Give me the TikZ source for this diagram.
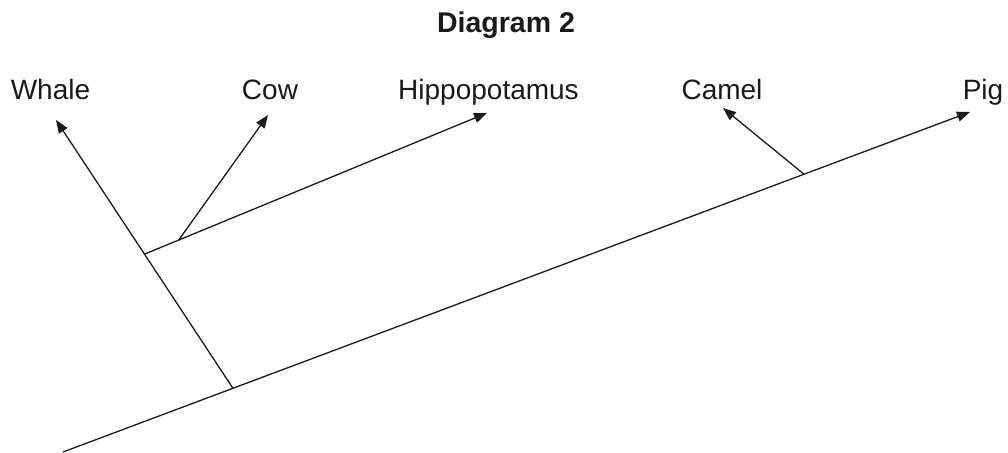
\documentclass[tikz,border=0pt]{standalone}
\usepackage{fontspec}
\setmainfont{Liberation Sans}
\usetikzlibrary{arrows.meta,calc}
\begin{document}
\begin{tikzpicture}[x=1pt,y=-1pt,
  branch/.style={line width=1.3pt, draw=black!90},
  arrowbranch/.style={branch, -{Triangle[length=13pt,width=10pt]}},
  lbl/.style={anchor=base, inner sep=0pt, font=\fontsize{28}{32}\selectfont, text=black!90},
  ttl/.style={anchor=base, inner sep=0pt, font=\fontsize{28.5}{32}\selectfont\bfseries, text=black!90}]
\useasboundingbox (0,0) rectangle (1008,452);
\node[ttl] (title) at (506,33) {Diagram 2};
\node[lbl] (whale) at (50.5,99) {Whale};
\node[lbl] (cow) at (270,99) {Cow};
\node[lbl] (hippo) at (488.5,99) {Hippopotamus};
\node[lbl] (camel) at (722,99) {Camel};
\node[lbl] (pig) at (983,99) {Pig};
\coordinate (root) at (63,452);
\coordinate (pigtip) at (970,112);
\coordinate (whaletip) at (56,120);
\coordinate (hippotip) at (487,113);
\coordinate (cowtip) at (268,115);
\coordinate (cameltip) at (723,108);
\coordinate (jW) at ($(root)!0.1874!(pigtip)$);
\coordinate (jCa) at ($(root)!0.817!(pigtip)$);
\coordinate (jH) at ($(jW)!0.5!(whaletip)$);
\coordinate (jC) at ($(jH)!0.1!(hippotip)$);
\draw[arrowbranch] (root) -- (pigtip);
\draw[arrowbranch] (jW) -- (whaletip);
\draw[arrowbranch] (jH) -- (hippotip);
\draw[arrowbranch] (jC) -- (cowtip);
\draw[arrowbranch] (jCa) -- (cameltip);
\end{tikzpicture}
\end{document}
